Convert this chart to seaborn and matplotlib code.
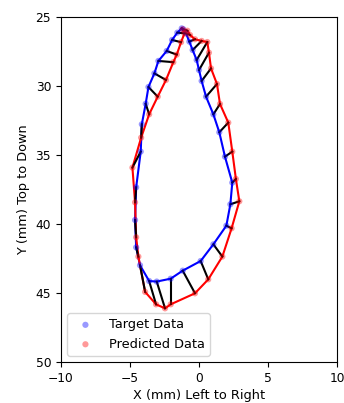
import numpy as np
import pandas as pd
import matplotlib
matplotlib.use("Agg")
import matplotlib.pyplot as plt
import seaborn as sns

target_x = [-1.25, -1.57, -1.95, -2.34, -2.94, -3.23, -3.66, -3.86, -4.14, -4.22, -4.55, -4.63,
            -4.55, -4.27, -3.61, -3.06, -2.05, -1.18, 0.12, 1.04, 1.98, 2.27, 2.41, 1.88,
            1.47, 1.04, 0.51, 0.19, 0.00, -0.17, -0.46, -0.70, -0.94, -1.13]
target_y = [25.80, 26.11, 26.64, 27.44, 28.16, 29.06, 30.05, 31.26, 32.75, 34.73, 37.32, 39.69,
            41.67, 42.97, 44.11, 44.15, 43.94, 43.36, 42.66, 41.45, 40.10, 38.55, 36.98, 35.10,
            33.33, 32.03, 30.75, 29.61, 28.82, 28.09, 27.37, 26.76, 26.16, 25.87]
pred_x = [-1.18, -1.05, -1.30, -1.61, -1.86, -2.39, -2.99, -3.61, -4.19, -4.82, -4.63, -4.55,
          -4.39, -3.90, -3.11, -2.46, -2.05, -0.29, 0.67, 1.69, 2.36, 2.92, 2.67, 2.41,
          2.12, 1.52, 1.30, 0.87, 0.72, 0.60, 0.19, -0.29, -0.65, -0.84]
pred_y = [25.87, 26.16, 26.80, 27.70, 28.25, 29.54, 30.75, 32.03, 33.72, 35.89, 38.41, 40.94,
          42.34, 44.90, 45.80, 46.09, 45.80, 45.00, 43.99, 42.34, 40.29, 38.33, 36.71, 34.73,
          32.63, 31.28, 29.83, 28.70, 27.56, 26.79, 26.71, 26.59, 26.28, 25.97]

fig = plt.figure(figsize=(3.44, 4.03), dpi=100)
ax = fig.add_axes([0.177, 0.101, 0.803, 0.856])

tx = np.array(target_x + target_x[:1]); ty = np.array(target_y + target_y[:1])
px = np.array(pred_x + pred_x[:1]); py = np.array(pred_y + pred_y[:1])
ax.plot(tx, ty, color="blue", lw=1.5, zorder=2)
ax.plot(px, py, color="red", lw=1.5, zorder=2)
for a, b, c, d in zip(target_x, target_y, pred_x, pred_y):
    ax.plot([a, c], [b, d], color="black", lw=1.5, zorder=3)

df_t = pd.DataFrame({"x": target_x, "y": target_y})
df_p = pd.DataFrame({"x": pred_x, "y": pred_y})
sns.scatterplot(data=df_t, x="x", y="y", color="blue", alpha=0.4, s=20, edgecolor="none",
                label="Target Data", ax=ax, zorder=4)
sns.scatterplot(data=df_p, x="x", y="y", color="red", alpha=0.4, s=20, edgecolor="none",
                label="Predicted Data", ax=ax, zorder=4)

ax.set_xlim(-10, 10)
ax.set_ylim(50, 25)
ax.set_xticks([-10, -5, 0, 5, 10])
ax.set_yticks([25, 30, 35, 40, 45, 50])
ax.tick_params(labelsize=8.8)
ax.set_xlabel("X (mm) Left to Right", fontsize=9.3, labelpad=3)
ax.set_ylabel("Y (mm) Top to Down", fontsize=9.3)
ax.legend(loc="lower left", fontsize=9.3)
fig.savefig("out.png", dpi=100)
